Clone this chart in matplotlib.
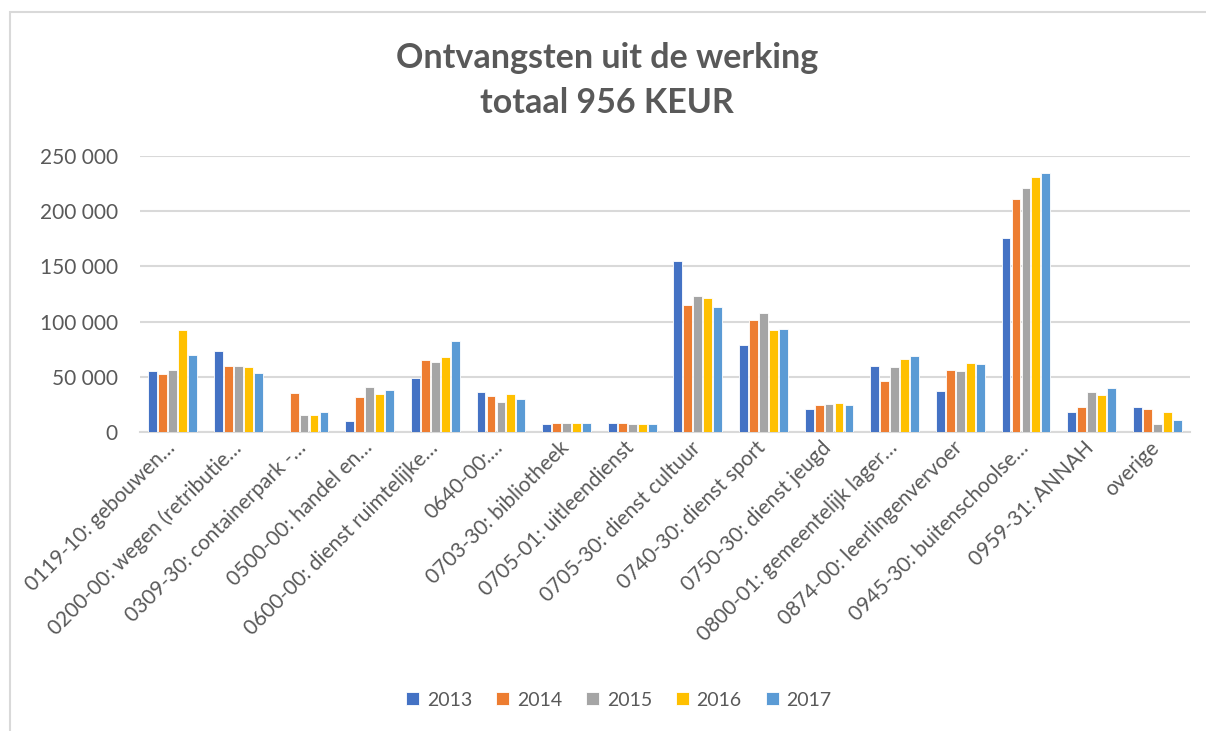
import numpy as np
import matplotlib.pyplot as plt
from matplotlib.patches import Rectangle

categories = [
    "0119-10: gebouwen…", "0200-00: wegen (retributie…", "0309-30: containerpark -…",
    "0500-00: handel en…", "0600-00: dienst ruimtelijke…", "0640-00:…",
    "0703-30: bibliotheek", "0705-01: uitleendienst", "0705-30: dienst cultuur",
    "0740-30: dienst sport", "0750-30: dienst jeugd", "0800-01: gemeentelijk lager…",
    "0874-00: leerlingenvervoer", "0945-30: buitenschoolse…", "0959-31: ANNAH", "overige",
]
years = ["2013", "2014", "2015", "2016", "2017"]

v2013 = [55500, 73700, 0, 9700, 48600, 36500, 7000, 7900, 154600, 78500, 20800, 59400, 36800, 176000, 18400, 22600]
v2014 = [52200, 59800, 35300, 31700, 64900, 32900, 8200, 8200, 114700, 101200, 24500, 46200, 56400, 210700, 22900, 20800]
v2015 = [56100, 59500, 15700, 40800, 63700, 27400, 8200, 7200, 123200, 108100, 25600, 58600, 55500, 220700, 36200, 7200]
v2016 = [92400, 59200, 15700, 34700, 67900, 34700, 8200, 7000, 121100, 92400, 26300, 65800, 62800, 230700, 33800, 17800]
v2017 = [69700, 53700, 18400, 38000, 82400, 29600, 8500, 7200, 113200, 93000, 24200, 69100, 61600, 234600, 39600, 10600]
series = [v2013, v2014, v2015, v2016, v2017]

colors = ["#4472C4", "#ED7D31", "#A5A5A5", "#FFC000", "#5B9BD5"]
text_col = "#595959"
grid_col = "#D9D9D9"

plt.rcParams["font.family"] = ["Lato", "DejaVu Sans"]

fig = plt.figure(figsize=(12.06, 7.31), dpi=100)
W, H = 1206, 731

# chart border (cut off at right/bottom like the screenshot)
fig.patches.append(Rectangle((10 / W, -0.1), 1.2, 1 - 12 / H + 0.1, transform=fig.transFigure,
                             fill=False, edgecolor=grid_col, linewidth=1.5))

ax = fig.add_axes([140 / W, 1 - 432 / H, 1050 / W, 276 / H])

x = np.arange(len(categories))
step = 0.152
for i, (vals, col, yr) in enumerate(zip(series, colors, years)):
    ax.bar(x + (i - 2) * step, vals, width=0.135, color=col, edgecolor="white",
           linewidth=0.6, label=yr, zorder=3)

ax.set_xlim(-0.5, len(categories) - 0.5)
ax.set_ylim(0, 250000)
ax.set_yticks(np.arange(0, 250001, 50000))
ax.set_yticklabels([f"{v:,}".replace(",", " ") for v in range(0, 250001, 50000)])
ax.grid(axis="y", color=grid_col, linewidth=1.5, zorder=0)
ax.set_axisbelow(True)
for s in ["top", "right", "left"]:
    ax.spines[s].set_visible(False)
ax.spines["bottom"].set_color(grid_col)
ax.spines["bottom"].set_linewidth(1.5)
ax.tick_params(axis="both", length=0, colors=text_col, labelsize=15)
ax.tick_params(axis="y", pad=16)

ax.set_xticks(x - 0.12)
ax.set_xticklabels(categories, rotation=45, ha="right", rotation_mode="anchor")
ax.tick_params(axis="x", pad=4)

fig.text(607 / W, 1 - 58 / H, "Ontvangsten uit de werking", ha="center", va="center",
         fontsize=24.5, fontweight="bold", color=text_col)
fig.text(607 / W, 1 - 103 / H, "totaal 956 KEUR", ha="center", va="center",
         fontsize=24.5, fontweight="bold", color=text_col)

fig.legend(loc="center", bbox_to_anchor=(619 / W, 1 - 700 / H), ncol=5, frameon=False,
           fontsize=14, labelcolor=text_col, handlelength=0.65, handleheight=0.65,
           handletextpad=0.4, columnspacing=1.25)

fig.savefig("out.png", dpi=100)
